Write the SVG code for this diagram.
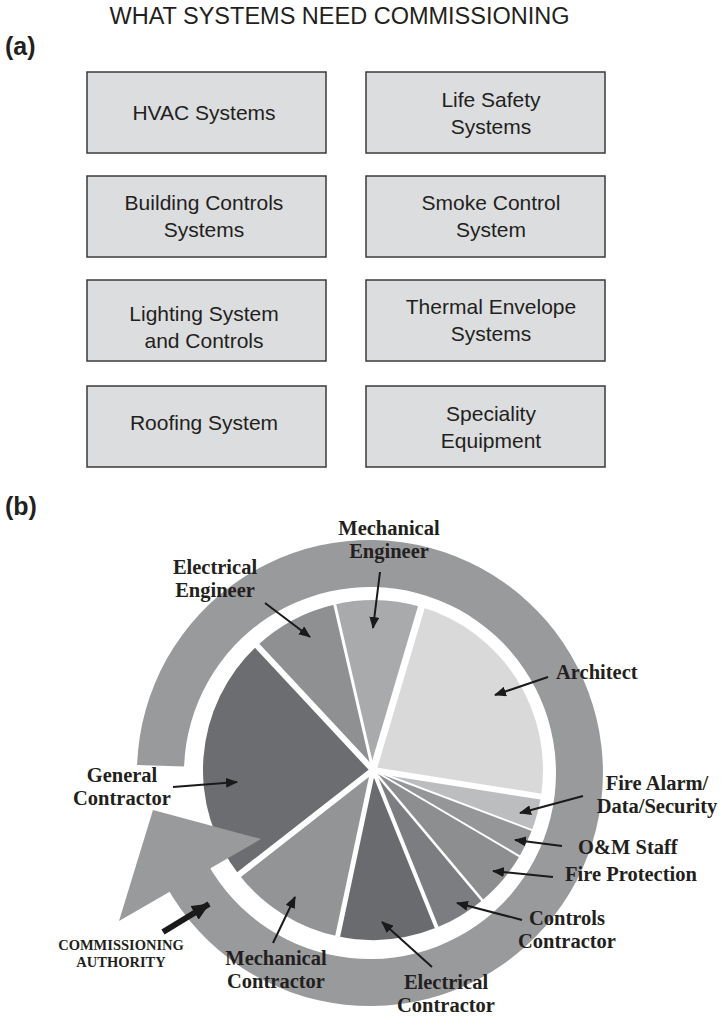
<svg xmlns="http://www.w3.org/2000/svg" width="725" height="1017" viewBox="0 0 725 1017">
<style>
.title{font-family:"Liberation Sans",Arial,sans-serif;font-size:23.5px;fill:#231f20}
.panel{font-family:"Liberation Sans",Arial,sans-serif;font-size:25px;font-weight:bold;fill:#231f20}
.box{fill:#dcdddf;stroke:#3a3a3a;stroke-width:1.5}
.bt{font-family:"Liberation Sans",Arial,sans-serif;font-size:21px;fill:#231f20;text-anchor:middle}
.lbl{font-family:"Liberation Serif","Times New Roman",serif;font-size:20.5px;font-weight:bold;fill:#231f20}
.mid{text-anchor:middle}
.ca{font-family:"Liberation Serif","Times New Roman",serif;font-size:14.5px;font-weight:bold;fill:#231f20;text-anchor:middle}
.sep{stroke:#ffffff;fill:none}
.arr{stroke:#1a1a1a;stroke-width:2;fill:none;marker-end:url(#ah)}
</style>
<defs>
<marker id="ah" markerUnits="userSpaceOnUse" markerWidth="12" markerHeight="10" refX="11" refY="5" orient="auto">
<path d="M0,0 L12,5 L0,10 z" fill="#1a1a1a"/>
</marker>
<marker id="ahb" markerUnits="userSpaceOnUse" markerWidth="18" markerHeight="16" refX="17" refY="8" orient="auto">
<path d="M0,0 L18,8 L0,16 z" fill="#1a1a1a"/>
</marker>
</defs>
<rect width="725" height="1017" fill="#ffffff"/>

<text class="title" x="339.5" y="24" text-anchor="middle">WHAT SYSTEMS NEED COMMISSIONING</text>
<text class="panel" x="5" y="55">(a)</text>

<g id="box-hvac"><rect class="box" x="87" y="72" width="239" height="81"/><text class="bt" x="204" y="120">HVAC Systems</text></g>
<g id="box-life-safety"><rect class="box" x="366" y="72" width="239" height="81"/><text class="bt" x="491" y="107">Life Safety</text><text class="bt" x="491" y="134">Systems</text></g>
<g id="box-building-controls"><rect class="box" x="87" y="176" width="239" height="81"/><text class="bt" x="204" y="210">Building Controls</text><text class="bt" x="204" y="237">Systems</text></g>
<g id="box-smoke-control"><rect class="box" x="366" y="176" width="239" height="81"/><text class="bt" x="491" y="210">Smoke Control</text><text class="bt" x="491" y="237">System</text></g>
<g id="box-lighting"><rect class="box" x="87" y="280" width="239" height="81"/><text class="bt" x="204" y="321">Lighting System</text><text class="bt" x="204" y="348">and Controls</text></g>
<g id="box-thermal"><rect class="box" x="366" y="280" width="239" height="81"/><text class="bt" x="491" y="314">Thermal Envelope</text><text class="bt" x="491" y="341">Systems</text></g>
<g id="box-roofing"><rect class="box" x="87" y="386" width="239" height="81"/><text class="bt" x="204" y="430">Roofing System</text></g>
<g id="box-speciality"><rect class="box" x="366" y="386" width="239" height="81"/><text class="bt" x="491" y="421">Speciality</text><text class="bt" x="491" y="448">Equipment</text></g>

<text class="panel" x="5" y="515">(b)</text>

<g id="pie">
<path id="slice-electrical-engineer" d="M373,770 L257.1,645.7 A170,170 0 0 1 334.8,604.4 Z" fill="#8f9092"/>
<path id="slice-mechanical-engineer" d="M373,770 L334.8,604.4 A170,170 0 0 1 421.3,607.0 Z" fill="#a9aaac"/>
<path id="slice-architect" d="M373,770 L421.3,607.0 A170,170 0 0 1 540.9,796.6 Z" fill="#d9d9da"/>
<path id="slice-fire-alarm" d="M373,770 L540.9,796.6 A170,170 0 0 1 532.0,830.1 Z" fill="#bcbdbf"/>
<path id="slice-om-staff" d="M373,770 L532.0,830.1 A170,170 0 0 1 519.5,856.3 Z" fill="#959698"/>
<path id="slice-fire-protection" d="M373,770 L519.5,856.3 A170,170 0 0 1 482.3,900.2 Z" fill="#8d8e90"/>
<path id="slice-controls-contractor" d="M373,770 L482.3,900.2 A170,170 0 0 1 436.7,927.6 Z" fill="#7c7d80"/>
<path id="slice-electrical-contractor" d="M373,770 L436.7,927.6 A170,170 0 0 1 337.7,936.3 Z" fill="#6a6b6e"/>
<path id="slice-mechanical-contractor" d="M373,770 L337.7,936.3 A170,170 0 0 1 239.0,874.7 Z" fill="#939496"/>
<path id="slice-general-contractor" d="M373,770 L239.0,874.7 A170,170 0 0 1 257.1,645.7 Z" fill="#6c6d70"/>
<g id="separators" class="sep">
<line x1="373" y1="770" x2="253.6" y2="642.0" stroke-width="6"/>
<line x1="373" y1="770" x2="333.6" y2="599.5" stroke-width="3"/>
<line x1="373" y1="770" x2="422.8" y2="602.2" stroke-width="7"/>
<line x1="373" y1="770" x2="545.8" y2="797.4" stroke-width="6"/>
<line x1="373" y1="770" x2="536.7" y2="831.9" stroke-width="2"/>
<line x1="373" y1="770" x2="523.8" y2="858.8" stroke-width="2"/>
<line x1="373" y1="770" x2="485.5" y2="904.1" stroke-width="2.5"/>
<line x1="373" y1="770" x2="438.6" y2="932.3" stroke-width="4"/>
<line x1="373" y1="770" x2="336.6" y2="941.2" stroke-width="5"/>
<line x1="373" y1="770" x2="235.1" y2="877.7" stroke-width="6"/>
<circle cx="373" cy="770" r="4" fill="#ffffff" stroke="none"/>
</g>
</g>

<g id="commissioning-ring">
<path d="M137.1,764.9 A233,233 0 1 1 166.2,886.0 L207.3,863.2 A186,186 0 1 0 184.1,766.5 Z" fill="#999a9c"/>
<polygon points="153,810 261,839 119,921" fill="#999a9c"/>
</g>

<g id="labels">
<text class="lbl mid" x="389" y="535">Mechanical</text>
<text class="lbl mid" x="389" y="558">Engineer</text>
<text class="lbl mid" x="215" y="574">Electrical</text>
<text class="lbl mid" x="215" y="597">Engineer</text>
<text class="lbl" x="556" y="679">Architect</text>
<text class="lbl mid" x="657" y="790">Fire Alarm/</text>
<text class="lbl mid" x="657" y="813">Data/Security</text>
<text class="lbl" x="578" y="854">O&amp;M Staff</text>
<text class="lbl" x="565" y="881">Fire Protection</text>
<text class="lbl mid" x="567" y="925">Controls</text>
<text class="lbl mid" x="567" y="948">Contractor</text>
<text class="lbl mid" x="446" y="989">Electrical</text>
<text class="lbl mid" x="446" y="1012">Contractor</text>
<text class="lbl mid" x="276" y="965">Mechanical</text>
<text class="lbl mid" x="276" y="988">Contractor</text>
<text class="lbl mid" x="122" y="782">General</text>
<text class="lbl mid" x="122" y="805">Contractor</text>
<text class="ca" x="121" y="950">COMMISSIONING</text>
<text class="ca" x="121" y="967">AUTHORITY</text>
</g>

<g id="connectors">
<line class="arr" x1="380" y1="572" x2="373" y2="628"/>
<line class="arr" x1="265" y1="603" x2="310" y2="637"/>
<line class="arr" x1="548" y1="677" x2="495" y2="695"/>
<line class="arr" x1="583" y1="796" x2="520" y2="813"/>
<line class="arr" x1="562" y1="846" x2="515" y2="840"/>
<line class="arr" x1="553" y1="877" x2="493" y2="871"/>
<line class="arr" x1="522" y1="920" x2="457" y2="903"/>
<line class="arr" x1="432" y1="967" x2="382" y2="922"/>
<line class="arr" x1="273" y1="943" x2="295" y2="897"/>
<line class="arr" x1="173" y1="787" x2="237" y2="782"/>
<line x1="163" y1="932" x2="209" y2="904" stroke="#1a1a1a" stroke-width="6" marker-end="url(#ahb)"/>
</g>
</svg>
